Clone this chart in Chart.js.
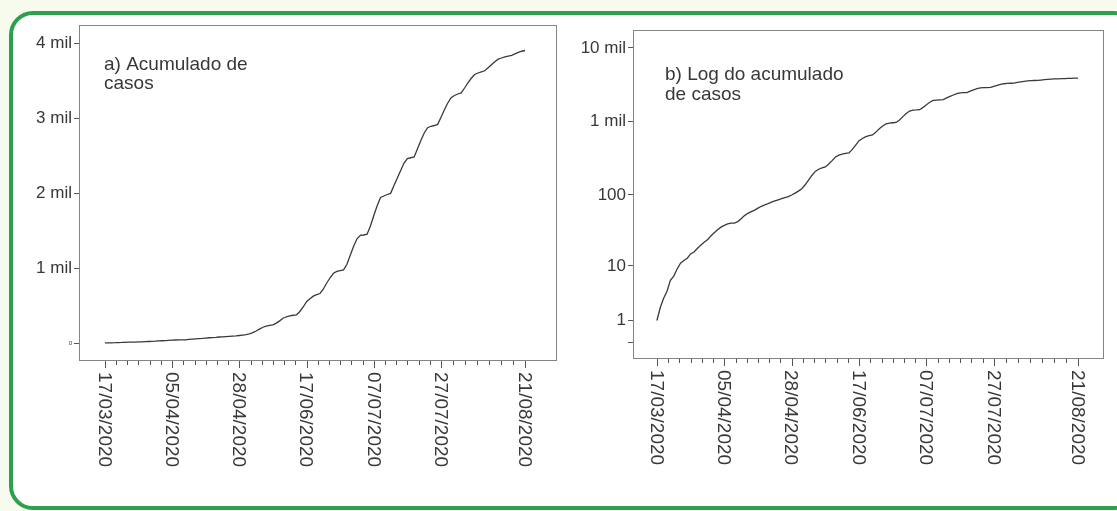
<!DOCTYPE html>
<html>
<head>
<meta charset="utf-8">
<script src="https://cdn.jsdelivr.net/npm/chart.js@4.4.1/dist/chart.umd.min.js"></script>
<style>
  html, body { margin: 0; padding: 0; background: #f7fbee; }
  body { width: 1117px; height: 511px; position: relative; overflow: hidden; }
  #moldura {
    position: absolute; left: 9px; top: 11px; width: 1120px; height: 491px;
    border: 4px solid #2e9f4c; border-radius: 24px; background: #fff;
  }
  canvas { position: absolute; top: 0; }
  #graf-a { left: 0; }
  #graf-b { left: 560px; }
</style>
</head>
<body>
<div id="moldura"></div>
<canvas id="graf-a" width="560" height="500"></canvas>
<canvas id="graf-b" width="557" height="500"></canvas>
<script>
"use strict";

// casos acumulados por dia, a partir de 17/03/2020
const casos = [
  1, 2, 3, 4, 6, 7, 9, 11, 12, 13,
  15, 16, 18, 20, 22, 24, 27, 30, 33, 36,
  38, 40, 41, 41, 43, 47, 52, 56, 59, 62,
  66, 70, 73, 76, 80, 83, 86, 89, 92, 95,
  100, 106, 113, 122, 138, 160, 185, 210, 225, 235,
  242, 265, 295, 330, 350, 362, 370, 376, 420, 480,
  550, 590, 625, 645, 660, 720, 800, 870, 930, 955,
  965, 975, 1050, 1170, 1290, 1390, 1435, 1440, 1450, 1560,
  1700, 1830, 1940, 1960, 1980, 1995, 2100, 2200, 2300, 2400,
  2460, 2470, 2480, 2590, 2700, 2800, 2870, 2890, 2900, 2915,
  3010, 3110, 3200, 3270, 3300, 3320, 3335, 3400, 3470, 3530,
  3580, 3600, 3615, 3630, 3670, 3710, 3750, 3785, 3800, 3815,
  3825, 3835, 3855, 3875, 3890, 3900,
];

const diasRotulo = [0, 20, 40, 60, 80, 100, 125];
const rotulosX = ["17/03/2020", "05/04/2020", "28/04/2020", "17/06/2020", "07/07/2020", "27/07/2020", "21/08/2020"];

const ticksA = [0, 1000, 2000, 3000, 4000];
const rotulosA = ["0", "1 mil", "2 mil", "3 mil", "4 mil"];

const ticksB = [0, 1, 10, 100, 1000, 10000];
const rotulosB = ["", "1", "10", "100", "1 mil", "10 mil"];

const FONTE = '"Liberation Sans", Arial, sans-serif';
const COR_TEXTO = "#383838";

const moldura = {
  id: "moldura",
  afterDraw(chart, args, opts) {
    const { ctx, chartArea: a } = chart;
    const x = chart.scales.x;
    ctx.save();
    ctx.strokeStyle = "#858585";
    ctx.lineWidth = 1;
    ctx.strokeRect(a.left + 0.5, a.top + 0.5, a.right - a.left - 1, a.bottom - a.top - 1);

    // marcas do eixo x (maiores nos rótulos)
    ctx.strokeStyle = "#555";
    for (let k = 0; k < diasRotulo.length - 1; k++) {
      const d0 = diasRotulo[k], d1 = diasRotulo[k + 1];
      const n = Math.round((d1 - d0) / 3.5);
      for (let j = 0; j <= n; j++) {
        const px = Math.round(x.getPixelForValue(d0 + (d1 - d0) * j / n)) + 0.5;
        const len = (j === 0 || j === n) ? 7 : 4;
        ctx.beginPath();
        ctx.moveTo(px, a.bottom);
        ctx.lineTo(px, a.bottom + len);
        ctx.stroke();
      }
    }

    ctx.fillStyle = COR_TEXTO;
    ctx.font = `19px ${FONTE}`;
    ctx.textAlign = "left";
    ctx.textBaseline = "middle";
    diasRotulo.forEach((d, i) => {
      ctx.save();
      ctx.translate(x.getPixelForValue(d) - 1, a.bottom + 11);
      ctx.rotate(Math.PI / 2);
      ctx.fillText(rotulosX[i], 0, 0);
      ctx.restore();
    });

    ctx.textBaseline = "alphabetic";
    opts.linhas.forEach((t, i) => ctx.fillText(t, a.left + opts.dx, a.top + opts.dy + i * opts.lh));
    ctx.restore();
  },
};

function eixoX(min, max, altura) {
  return {
    type: "linear",
    min, max,
    grid: { display: false },
    border: { display: false },
    ticks: { display: false },
    afterFit: (s) => { s.height = altura; },
  };
}

function eixoY(extra, largura) {
  return Object.assign({
    grid: { drawOnChartArea: false, drawTicks: true, tickLength: 5, color: "#555" },
    border: { display: false },
    afterFit: (s) => { s.width = largura; },
  }, extra);
}

const serie = (f) => casos.map((v, i) => ({ x: i, y: f(v) }));
const linha = { borderColor: "#3a3a3a", borderWidth: 1.3, pointRadius: 0, tension: 0, fill: false };

new Chart(document.getElementById("graf-a"), {
  type: "line",
  data: { datasets: [Object.assign({ data: serie((v) => v) }, linha)] },
  plugins: [moldura],
  options: {
    responsive: false,
    animation: false,
    events: [],
    layout: { padding: { left: 0, top: 25, right: 3, bottom: 0 } },
    plugins: {
      legend: { display: false },
      tooltip: { enabled: false },
      moldura: { linhas: ["a) Acumulado de", "casos"], dx: 25, dy: 45, lh: 19 },
    },
    scales: {
      x: eixoX(-7.7, 134.5, 139),
      y: eixoY({
        type: "linear",
        min: -240, max: 4240,
        afterBuildTicks: (s) => { s.ticks = ticksA.map((v) => ({ value: v })); },
        ticks: {
          autoSkip: false,
          padding: 2,
          color: COR_TEXTO,
          font: (c) => ({ family: FONTE, size: c.tick && c.tick.value === 0 ? 6 : 17 }),
          callback: (v, i) => rotulosA[i],
        },
      }, 79),
    },
  },
});

new Chart(document.getElementById("graf-b"), {
  type: "line",
  data: { datasets: [Object.assign({ data: serie((v) => v + 1) }, linha)] },
  plugins: [moldura],
  options: {
    responsive: false,
    animation: false,
    events: [],
    layout: { padding: { left: 0, top: 30, right: 13, bottom: 0 } },
    plugins: {
      legend: { display: false },
      tooltip: { enabled: false },
      moldura: { linhas: ["b) Log do acumulado", "de casos"], dx: 32, dy: 50, lh: 20 },
    },
    scales: {
      x: eixoX(-7.1, 132.7, 141),
      y: eixoY({
        type: "logarithmic",
        min: 0.607, max: 17540,
        afterBuildTicks: (s) => { s.ticks = ticksB.map((v) => ({ value: v + 1 })); },
        ticks: {
          autoSkip: false,
          padding: 2,
          color: COR_TEXTO,
          font: { family: FONTE, size: 17 },
          callback: (v, i) => rotulosB[i],
        },
      }, 73),
    },
  },
});
</script>
</body>
</html>
